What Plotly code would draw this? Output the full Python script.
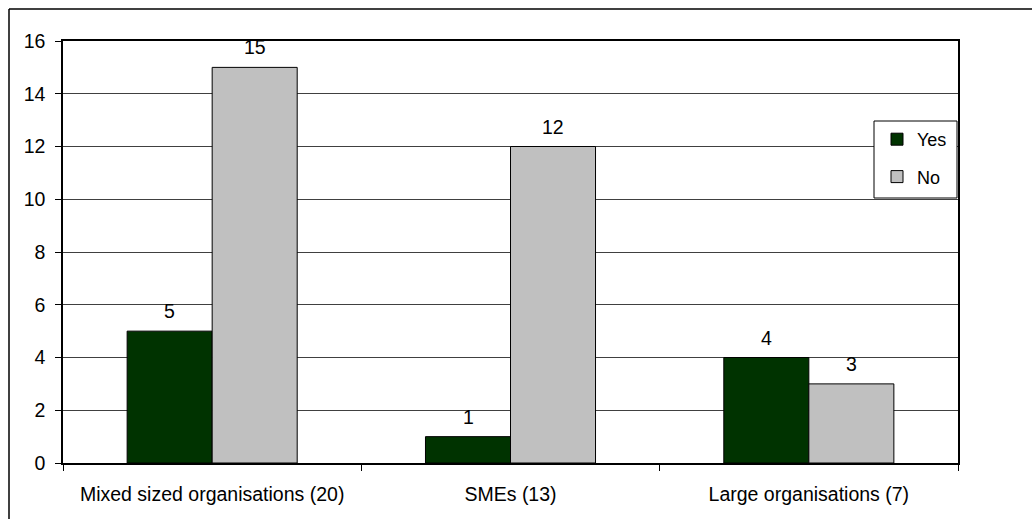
import plotly.graph_objects as go

categories = ["Mixed sized organisations (20)", "SMEs (13)", "Large organisations (7)"]
yes_values = [5, 1, 4]
no_values = [15, 12, 3]
y_ticks = [0, 2, 4, 6, 8, 10, 12, 14, 16]

FONT = "Liberation Sans, Arial, sans-serif"
SIZE = 19.5

# plot-area geometry in pixels, used to place the frame and legend box
PW, PH, L, T = 895, 422, 63, 41


def px_x(x):
    return (x - L) / PW


def px_y(y):
    return (T + PH - y) / PH


fig = go.Figure()
fig.add_trace(go.Bar(
    name="Yes", x=categories, y=yes_values, legendgroup="yes",
    marker=dict(color="#003300", line=dict(color="#000000", width=1)),
))
fig.add_trace(go.Bar(
    name="No", x=categories, y=no_values, legendgroup="no",
    marker=dict(color="#C0C0C0", line=dict(color="#000000", width=1)),
))

# value labels above each bar
half = 42.5
for cat, v in zip(categories, yes_values):
    fig.add_annotation(x=cat, y=v, text=str(v), showarrow=False, xshift=-half,
                       yshift=20, font=dict(size=SIZE, color="#000000", family=FONT))
for cat, v in zip(categories, no_values):
    fig.add_annotation(x=cat, y=v, text=str(v), showarrow=False, xshift=half,
                       yshift=20, font=dict(size=SIZE, color="#000000", family=FONT))

# outer chart frame (top and left edges)
fig.add_shape(type="line", xref="paper", yref="paper",
              x0=px_x(9), x1=1.3, y0=px_y(9), y1=px_y(9),
              line=dict(color="#000000", width=1.5))
fig.add_shape(type="line", xref="paper", yref="paper",
              x0=px_x(9), x1=px_x(9), y0=-0.3, y1=px_y(9),
              line=dict(color="#000000", width=1.5))

# legend box
fig.add_shape(type="rect", xref="paper", yref="paper",
              x0=px_x(874), x1=px_x(957), y0=px_y(198), y1=px_y(121),
              fillcolor="#FFFFFF", line=dict(color="#000000", width=1),
              layer="above")

fig.update_layout(
    width=1032, height=519,
    margin=dict(l=L, r=1032 - L - PW, t=T, b=519 - T - PH),
    paper_bgcolor="#FFFFFF", plot_bgcolor="#FFFFFF",
    barmode="group", bargap=0.43, bargroupgap=0,
    font=dict(family=FONT, size=SIZE, color="#000000"),
    showlegend=True,
    legend=dict(
        x=px_x(877), xanchor="left",
        y=px_y(121), yanchor="top",
        bgcolor="rgba(0,0,0,0)", borderwidth=0,
        font=dict(size=18, family=FONT), itemwidth=30,
        tracegroupgap=11,
    ),
    xaxis=dict(
        type="category", tickson="boundaries", ticks="outside", ticklen=6,
        tickcolor="#000000", showline=True, linecolor="#000000", linewidth=1.5,
        mirror=True, showgrid=False, ticklabelstandoff=13,
        tickfont=dict(size=SIZE, family=FONT),
    ),
    yaxis=dict(
        range=[0, 16], tickvals=y_ticks, ticks="outside", ticklen=6,
        tickcolor="#000000", showline=True, linecolor="#000000", linewidth=1.5,
        mirror=True, showgrid=True, gridcolor="#404040", gridwidth=1,
        zeroline=False, ticklabelstandoff=6,
        tickfont=dict(size=SIZE, family=FONT),
    ),
)

fig.write_html("out.html")
